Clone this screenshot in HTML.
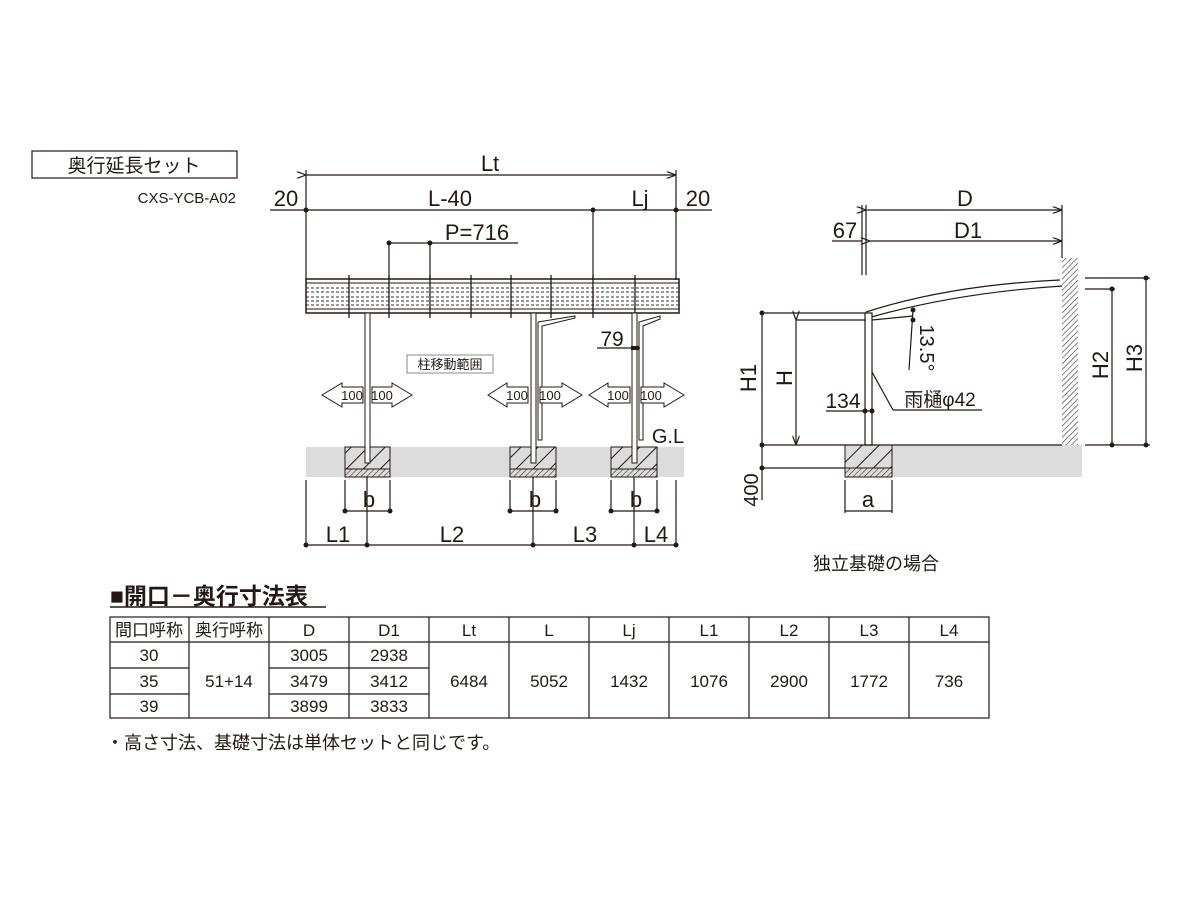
<!DOCTYPE html>
<html><head><meta charset="utf-8"><style>
html,body{margin:0;padding:0;background:#fff;}
svg{display:block;}
text{font-family:"Liberation Sans","Noto Sans CJK JP",sans-serif;fill:#231815;}
</style></head><body>
<svg width="1200" height="900" viewBox="0 0 1200 900" xmlns="http://www.w3.org/2000/svg">
<defs>
<pattern id="h" width="12" height="12" patternUnits="userSpaceOnUse" patternTransform="rotate(45)">
<line x1="0" y1="0" x2="0" y2="12" stroke="#231815" stroke-width="2"/></pattern>
<pattern id="hs" width="4" height="4" patternUnits="userSpaceOnUse" patternTransform="rotate(45)">
<line x1="0" y1="0" x2="0" y2="4" stroke="#333" stroke-width="1.2"/></pattern>
<marker id="a" markerWidth="8" markerHeight="6" refX="8" refY="3" orient="auto"><path d="M0,0 L8,3 L0,6" fill="none" stroke="#231815"/></marker>
</defs>
<rect x="32" y="151" width="205" height="27" fill="none" stroke="#231815" stroke-width="1.2"/>
<text x="134" y="172" font-size="19" text-anchor="middle">奥行延長セット</text>
<text x="236" y="203" font-size="15" text-anchor="end">CXS-YCB-A02</text>

<g stroke="#231815" stroke-width="1.2" fill="none">
<line x1="306" y1="175" x2="676" y2="175" marker-start="url(#a)" marker-end="url(#a)"/>
<line x1="306" y1="170" x2="306" y2="280"/>
<line x1="676" y1="170" x2="676" y2="280"/>
<line x1="270" y1="210" x2="712" y2="210"/>
<line x1="593" y1="210" x2="593" y2="280"/>
<line x1="389" y1="243" x2="518" y2="243"/>
<line x1="389" y1="243" x2="389" y2="280"/>
<line x1="430" y1="243" x2="430" y2="280"/>
</g>
<g fill="#231815">
<circle cx="306" cy="210" r="2.5"/><circle cx="593" cy="210" r="2.5"/><circle cx="676" cy="210" r="2.5"/>
<circle cx="389" cy="243" r="2.5"/><circle cx="430" cy="243" r="2.5"/>
</g>
<text x="490" y="171" font-size="22" text-anchor="middle">Lt</text>
<text x="286" y="206" font-size="22" text-anchor="middle">20</text>
<text x="450" y="206" font-size="22" text-anchor="middle">L-40</text>
<text x="640" y="206" font-size="22" text-anchor="middle">Lj</text>
<text x="698" y="206" font-size="22" text-anchor="middle">20</text>
<text x="477" y="240" font-size="22" text-anchor="middle">P=716</text>

<g stroke="#231815" fill="none">
<rect x="306" y="279" width="373" height="34" stroke-width="1.5"/>
<line x1="306" y1="309" x2="679" y2="309"/>
<line x1="306" y1="283" x2="679" y2="283"/>
<g stroke-dasharray="3,2" stroke="#333">
<line x1="306" y1="288" x2="679" y2="288"/><line x1="306" y1="292" x2="679" y2="292"/>
<line x1="306" y1="297" x2="679" y2="297"/><line x1="306" y1="301" x2="679" y2="301"/>
<line x1="306" y1="305" x2="679" y2="305"/>
</g>
<g stroke-width="1.3">
<line x1="349" y1="275" x2="349" y2="318"/><line x1="389" y1="275" x2="389" y2="318"/>
<line x1="430" y1="275" x2="430" y2="318"/><line x1="471" y1="275" x2="471" y2="318"/>
<line x1="511" y1="275" x2="511" y2="318"/><line x1="551" y1="275" x2="551" y2="318"/>
<line x1="593" y1="275" x2="593" y2="318"/><line x1="635" y1="275" x2="635" y2="318"/>
</g>
</g>
<rect x="306" y="447" width="378" height="30" fill="#dcdcdc"/>
<g stroke="#231815" stroke-width="1">
<rect x="345" y="447" width="45" height="22" fill="url(#h)"/><rect x="345" y="469" width="45" height="8" fill="url(#hs)"/>
<rect x="510" y="447" width="46" height="22" fill="url(#h)"/><rect x="510" y="469" width="46" height="8" fill="url(#hs)"/>
<rect x="611" y="447" width="46" height="22" fill="url(#h)"/><rect x="611" y="469" width="46" height="8" fill="url(#hs)"/>
</g>
<g stroke="#231815" fill="#fff" stroke-width="1">
<rect x="365" y="313" width="5" height="150"/>
<rect x="531" y="313" width="5" height="150"/>
<rect x="632" y="313" width="5" height="150"/>
<path d="M538,322 L538,440 L542,440 L542,326 L575,318 L575,316 L538,322" />
<path d="M639,322 L639,440 L643,440 L643,326 L660,319 L660,316 Z"/>
</g>
<line x1="597" y1="348" x2="640" y2="348" stroke="#231815" stroke-width="1.2"/>
<rect x="631" y="346" width="8" height="4" fill="#231815"/>
<text x="612" y="346" font-size="21" text-anchor="middle">79</text>
<rect x="407" y="355" width="86" height="18" fill="#fff" stroke="#888"/>
<text x="450" y="369" font-size="13" text-anchor="middle">柱移動範囲</text>
<text x="668" y="443" font-size="20" text-anchor="middle">G.L</text>
<g stroke="#231815" fill="#fff" stroke-width="1">
<path d="M322,395 L342,383 L342,387 L363,387 L363,403 L342,403 L342,407 Z"/>
<path d="M412,395 L392,383 L392,387 L372,387 L372,403 L392,403 L392,407 Z"/>
<path d="M488,395 L507,383 L507,387 L528,387 L528,403 L507,403 L507,407 Z"/>
<path d="M582,395 L562,383 L562,387 L540,387 L540,403 L562,403 L562,407 Z"/>
<path d="M589,395 L608,383 L608,387 L630,387 L630,403 L608,403 L608,407 Z"/>
<path d="M684,395 L664,383 L664,387 L641,387 L641,403 L664,403 L664,407 Z"/>
</g>
<g font-size="13" text-anchor="middle">
<text x="352" y="400">100</text><text x="382" y="400">100</text>
<text x="517" y="400">100</text><text x="550" y="400">100</text>
<text x="618" y="400">100</text><text x="651" y="400">100</text>
</g>
<g stroke="#231815" stroke-width="1.2">
<line x1="345" y1="480" x2="345" y2="513"/><line x1="390" y1="480" x2="390" y2="513"/><line x1="345" y1="511" x2="390" y2="511"/>
<line x1="510" y1="480" x2="510" y2="513"/><line x1="556" y1="480" x2="556" y2="513"/><line x1="510" y1="511" x2="556" y2="511"/>
<line x1="611" y1="480" x2="611" y2="513"/><line x1="657" y1="480" x2="657" y2="513"/><line x1="611" y1="511" x2="657" y2="511"/>
<line x1="306" y1="480" x2="306" y2="547"/><line x1="676" y1="480" x2="676" y2="547"/>
<line x1="367" y1="477" x2="367" y2="547"/><line x1="533" y1="477" x2="533" y2="547"/><line x1="634" y1="477" x2="634" y2="547"/>
<line x1="306" y1="545" x2="676" y2="545"/>
</g>
<g fill="#231815">
<circle cx="345" cy="511" r="2.5"/><circle cx="390" cy="511" r="2.5"/><circle cx="510" cy="511" r="2.5"/><circle cx="556" cy="511" r="2.5"/><circle cx="611" cy="511" r="2.5"/><circle cx="657" cy="511" r="2.5"/>
<circle cx="306" cy="545" r="2.5"/><circle cx="367" cy="545" r="2.5"/><circle cx="533" cy="545" r="2.5"/><circle cx="634" cy="545" r="2.5"/><circle cx="676" cy="545" r="2.5"/>
</g>
<g font-size="22" text-anchor="middle">
<text x="369" y="507">b</text><text x="535" y="507">b</text><text x="636" y="507">b</text>
<text x="338" y="542">L1</text><text x="452" y="542">L2</text><text x="585" y="542">L3</text><text x="656" y="542">L4</text>
</g>

<g stroke="#231815" stroke-width="1.2" fill="none">
<line x1="866" y1="210" x2="1062" y2="210" marker-start="url(#a)" marker-end="url(#a)"/>
<line x1="870" y1="241" x2="1062" y2="241" marker-start="url(#a)" marker-end="url(#a)"/>
<line x1="832" y1="241" x2="862" y2="241"/>
<line x1="862" y1="205" x2="862" y2="275"/><line x1="866" y1="205" x2="866" y2="275"/>
<line x1="1062" y1="205" x2="1062" y2="258"/>
</g>
<text x="965" y="206" font-size="22" text-anchor="middle">D</text>
<text x="968" y="238" font-size="22" text-anchor="middle">D1</text>
<text x="845" y="238" font-size="22" text-anchor="middle">67</text>
<rect x="1062" y="258" width="16" height="187" fill="url(#hs)"/>
<rect x="845" y="445" width="237" height="32" fill="#dcdcdc"/>
<rect x="845" y="445" width="47" height="23" fill="url(#h)" stroke="#231815"/>
<rect x="845" y="468" width="47" height="9" fill="url(#hs)" stroke="#231815"/>
<g stroke="#231815" fill="none" stroke-width="1.2">
<path d="M866,312 Q950,285 1060,280"/>
<path d="M868,318 Q955,293 1062,286"/>
<line x1="872" y1="320" x2="913" y2="316"/>
<rect x="865" y="313" width="7" height="132" fill="#fff"/>
<line x1="872" y1="372" x2="893" y2="410"/><line x1="893" y1="410" x2="982" y2="410"/>
<line x1="826" y1="411" x2="872" y2="411"/>
<line x1="913" y1="310" x2="909" y2="370"/>
<line x1="762" y1="313" x2="866" y2="313"/>
<line x1="762" y1="313" x2="762" y2="500"/>
<line x1="796" y1="320" x2="866" y2="320"/>
<line x1="796" y1="320" x2="796" y2="445" marker-start="url(#a)" marker-end="url(#a)"/>
<line x1="762" y1="445" x2="1062" y2="445"/>
<line x1="762" y1="468" x2="845" y2="468"/>
<line x1="1085" y1="445" x2="1150" y2="445"/>
<line x1="1085" y1="278" x2="1150" y2="278"/>
<line x1="1085" y1="289" x2="1115" y2="289"/>
<line x1="1112" y1="289" x2="1112" y2="445"/>
<line x1="1146" y1="278" x2="1146" y2="445"/>
<line x1="845" y1="480" x2="845" y2="513"/><line x1="892" y1="480" x2="892" y2="513"/><line x1="845" y1="511" x2="892" y2="511"/>
</g>
<g fill="#231815">
<circle cx="762" cy="313" r="2.5"/><circle cx="762" cy="445" r="2.5"/><circle cx="762" cy="468" r="2.5"/>
<circle cx="1112" cy="289" r="2.5"/><circle cx="1112" cy="445" r="2.5"/><circle cx="1146" cy="278" r="2.5"/><circle cx="1146" cy="445" r="2.5"/>
<circle cx="913" cy="310" r="2.5"/><circle cx="913" cy="320" r="2.5"/>
<circle cx="865" cy="411" r="2.5"/><circle cx="872" cy="411" r="2.5"/>
</g>
<text x="843" y="408" font-size="21" text-anchor="middle">134</text>
<text x="940" y="406" font-size="19" text-anchor="middle">雨樋φ42</text>
<text font-size="20" text-anchor="middle" transform="translate(920,348) rotate(90)">13.5°</text>
<text font-size="22" text-anchor="middle" transform="translate(756,378) rotate(-90)">H1</text>
<text font-size="22" text-anchor="middle" transform="translate(792,378) rotate(-90)">H</text>
<text font-size="22" text-anchor="middle" transform="translate(1108,365) rotate(-90)">H2</text>
<text font-size="22" text-anchor="middle" transform="translate(1142,358) rotate(-90)">H3</text>
<text font-size="20" text-anchor="middle" transform="translate(758,490) rotate(-90)">400</text>
<text x="868" y="507" font-size="22" text-anchor="middle">a</text>
<text x="876" y="570" font-size="18" text-anchor="middle">独立基礎の場合</text>

<text x="110" y="604" font-size="23" font-weight="bold">■開口－奥行寸法表</text>
<line x1="110" y1="607" x2="326" y2="607" stroke="#231815" stroke-width="1.5"/>
<g stroke="#231815" stroke-width="1.2" fill="none">
<rect x="110" y="617" width="879" height="101"/>
<line x1="110" y1="642" x2="989" y2="642"/>
<line x1="110" y1="668" x2="189" y2="668"/><line x1="110" y1="694" x2="189" y2="694"/>
<line x1="269" y1="668" x2="429" y2="668"/><line x1="269" y1="694" x2="429" y2="694"/>
<line x1="189" y1="617" x2="189" y2="718"/><line x1="269" y1="617" x2="269" y2="718"/>
<line x1="349" y1="617" x2="349" y2="718"/><line x1="429" y1="617" x2="429" y2="718"/>
<line x1="509" y1="617" x2="509" y2="718"/><line x1="589" y1="617" x2="589" y2="718"/>
<line x1="669" y1="617" x2="669" y2="718"/><line x1="749" y1="617" x2="749" y2="718"/>
<line x1="829" y1="617" x2="829" y2="718"/><line x1="909" y1="617" x2="909" y2="718"/>
</g>
<g font-size="17" text-anchor="middle">
<text x="149" y="636">間口呼称</text><text x="229" y="636">奥行呼称</text>
<text x="309" y="636">D</text><text x="389" y="636">D1</text><text x="469" y="636">Lt</text>
<text x="549" y="636">L</text><text x="629" y="636">Lj</text><text x="709" y="636">L1</text>
<text x="789" y="636">L2</text><text x="869" y="636">L3</text><text x="949" y="636">L4</text>
<text x="149" y="661">30</text><text x="149" y="687">35</text><text x="149" y="712">39</text>
<text x="229" y="687">51+14</text>
<text x="309" y="661">3005</text><text x="309" y="687">3479</text><text x="309" y="712">3899</text>
<text x="389" y="661">2938</text><text x="389" y="687">3412</text><text x="389" y="712">3833</text>
<text x="469" y="687">6484</text><text x="549" y="687">5052</text><text x="629" y="687">1432</text>
<text x="709" y="687">1076</text><text x="789" y="687">2900</text><text x="869" y="687">1772</text><text x="949" y="687">736</text>
</g>
<text x="106" y="749" font-size="18">・高さ寸法、基礎寸法は単体セットと同じです。</text>
</svg>
</body></html>
